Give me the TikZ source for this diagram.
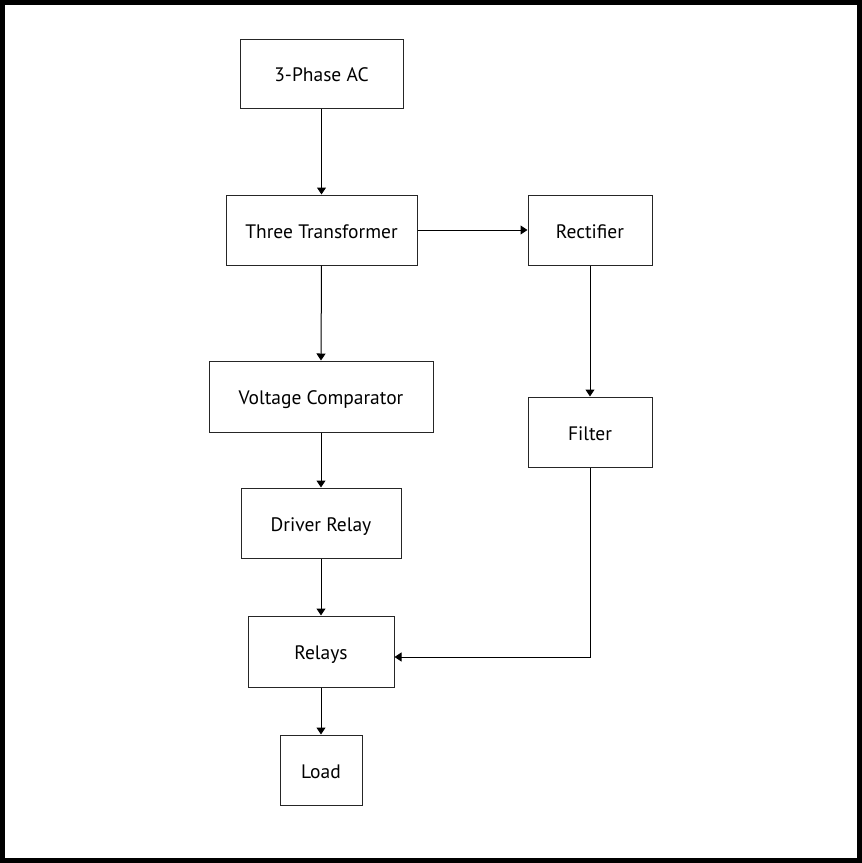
\documentclass[tikz,border=0pt]{standalone}
\usepackage{fontspec}
\setmainfont{PT Sans}
\usetikzlibrary{arrows.meta}
\begin{document}
\begin{tikzpicture}[x=1pt,y=-1pt,
  blk/.style={draw=black!85,line width=1pt,fill=white,inner sep=0pt,text height=16pt,text depth=0pt,font=\fontsize{19.5}{22}\selectfont},
  conn/.style={draw=black,line width=1pt,-{Triangle[length=7pt,width=9pt]}}]
\useasboundingbox (0,0) rectangle (862,863);
\draw[line width=5pt] (2.5,2.5) rectangle (859.5,860.5);
\node[blk,minimum width=163pt,minimum height=69pt] (ac) at (321.5,73.5) {3-Phase AC};
\node[blk,minimum width=191pt,minimum height=70pt] (tr) at (321.5,230) {Three Transformer};
\node[blk,minimum width=124pt,minimum height=70pt] (rec) at (590,230) {Rectifier};
\node[blk,minimum width=224pt,minimum height=71pt] (vc) at (321,396.5) {Voltage Comparator};
\node[blk,minimum width=124pt,minimum height=70pt] (fil) at (590,432) {Filter};
\node[blk,minimum width=160pt,minimum height=70pt] (dr) at (321,523) {Driver Relay};
\node[blk,minimum width=146pt,minimum height=71pt] (rel) at (321,651.5) {Relays};
\node[blk,minimum width=82pt,minimum height=70pt] (load) at (321,770) {Load};
\coordinate (corner) at (590,657);
\draw[conn] (ac.south) -- (tr.north);
\draw[conn] (tr.east) -- (rec.west);
\draw[conn] (tr.south) -- (vc.north);
\draw[conn] (rec.south) -- (fil.north);
\draw[conn] (vc.south) -- (dr.north);
\draw[conn] (dr.south) -- (rel.north);
\draw[conn] (rel.south) -- (load.north);
\draw[conn] (fil.south) -- (corner) -- (rel.east |- corner);
\end{tikzpicture}
\end{document}
